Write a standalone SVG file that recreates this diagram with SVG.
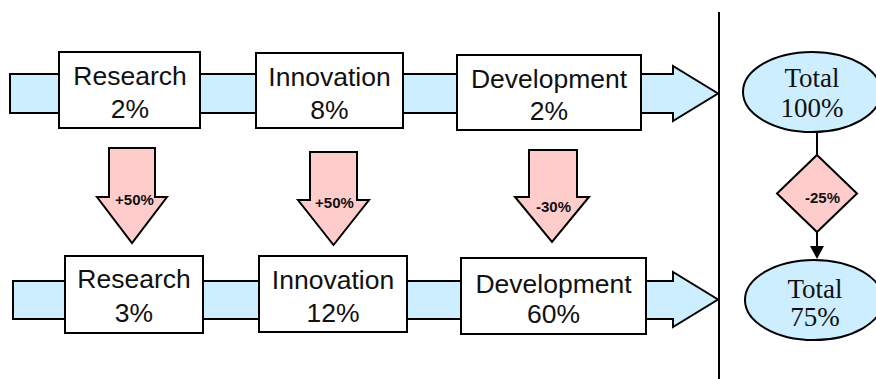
<svg xmlns="http://www.w3.org/2000/svg" width="876" height="379" viewBox="0 0 876 379">
<style>
.band{fill:#cceeff;stroke:#000;stroke-width:2;stroke-linejoin:miter}
.box{fill:#fff;stroke:#000;stroke-width:2}
.down{fill:#ffcccc;stroke:#000;stroke-width:2;stroke-linejoin:miter}
.lbl{font-family:"Liberation Sans",Arial,sans-serif;font-size:26.5px;fill:#111;text-anchor:middle}
.pct{font-family:"Liberation Sans",Arial,sans-serif;font-size:15px;font-weight:bold;fill:#111;text-anchor:middle}
.tot{font-family:"Liberation Serif","Times New Roman",serif;font-size:27px;fill:#111;text-anchor:middle}
.ell{fill:#cceeff;stroke:#000;stroke-width:2}
.line{stroke:#000;stroke-width:2;fill:none}
</style>
<g id="connectors">
<polygon id="band-top" class="band" points="10,74 673,74 673,66 718,93.5 673,121 673,113 10,113"/>
<polygon id="band-bottom" class="band" points="13,281 673,281 673,272 718,299.5 673,327 673,319 13,319"/>
<line class="line" x1="719" y1="12" x2="719" y2="379"/>
<line class="line" x1="817" y1="132" x2="817" y2="155"/>
<line class="line" x1="817" y1="232" x2="817" y2="250"/>
<path d="M810,246 L824,246 L817,259 Z" fill="#000"/>
</g>
<g id="research-top">
<rect class="box" x="59" y="52" width="141" height="76"/>
<text class="lbl" x="130" y="85">Research</text>
<text class="lbl" x="130" y="118">2%</text>
</g>
<g id="innovation-top">
<rect class="box" x="256" y="53" width="147" height="75"/>
<text class="lbl" x="329.5" y="86">Innovation</text>
<text class="lbl" x="329.5" y="119">8%</text>
</g>
<g id="development-top">
<rect class="box" x="457" y="55" width="184" height="75"/>
<text class="lbl" x="549" y="88">Development</text>
<text class="lbl" x="549" y="120">2%</text>
</g>
<g id="research-bottom">
<rect class="box" x="65" y="256" width="138" height="77"/>
<text class="lbl" x="134" y="288">Research</text>
<text class="lbl" x="134" y="322">3%</text>
</g>
<g id="innovation-bottom">
<rect class="box" x="259" y="256" width="148" height="76"/>
<text class="lbl" x="333" y="289">Innovation</text>
<text class="lbl" x="333" y="322">12%</text>
</g>
<g id="development-bottom">
<rect class="box" x="461" y="258" width="185" height="76"/>
<text class="lbl" x="553.5" y="293">Development</text>
<text class="lbl" x="553.5" y="323">60%</text>
</g>
<g id="change-research">
<polygon class="down" points="109,148 155,148 155,197 167,197 132,243 97,197 109,197"/>
<text class="pct" x="134.5" y="205">+50%</text>
</g>
<g id="change-innovation">
<polygon class="down" points="310,152 357,152 357,200 369,200 333.5,245 298,200 310,200"/>
<text class="pct" x="334.5" y="208">+50%</text>
</g>
<g id="change-development">
<polygon class="down" points="529,150 577,150 577,197 589,197 552,242 515,197 529,197"/>
<text class="pct" x="553.5" y="212">-30%</text>
</g>
<g id="total-top">
<ellipse class="ell" cx="812" cy="92" rx="69" ry="40"/>
<text class="tot" x="812" y="87">Total</text>
<text class="tot" x="812" y="117">100%</text>
</g>
<g id="total-change">
<polygon class="down" points="817,155 857,193.5 817,232 777,193.5"/>
<text class="pct" x="822.5" y="203">-25%</text>
</g>
<g id="total-bottom">
<ellipse class="ell" cx="814" cy="300" rx="69" ry="40"/>
<text class="tot" x="815" y="298">Total</text>
<text class="tot" x="815" y="326">75%</text>
</g>
</svg>
